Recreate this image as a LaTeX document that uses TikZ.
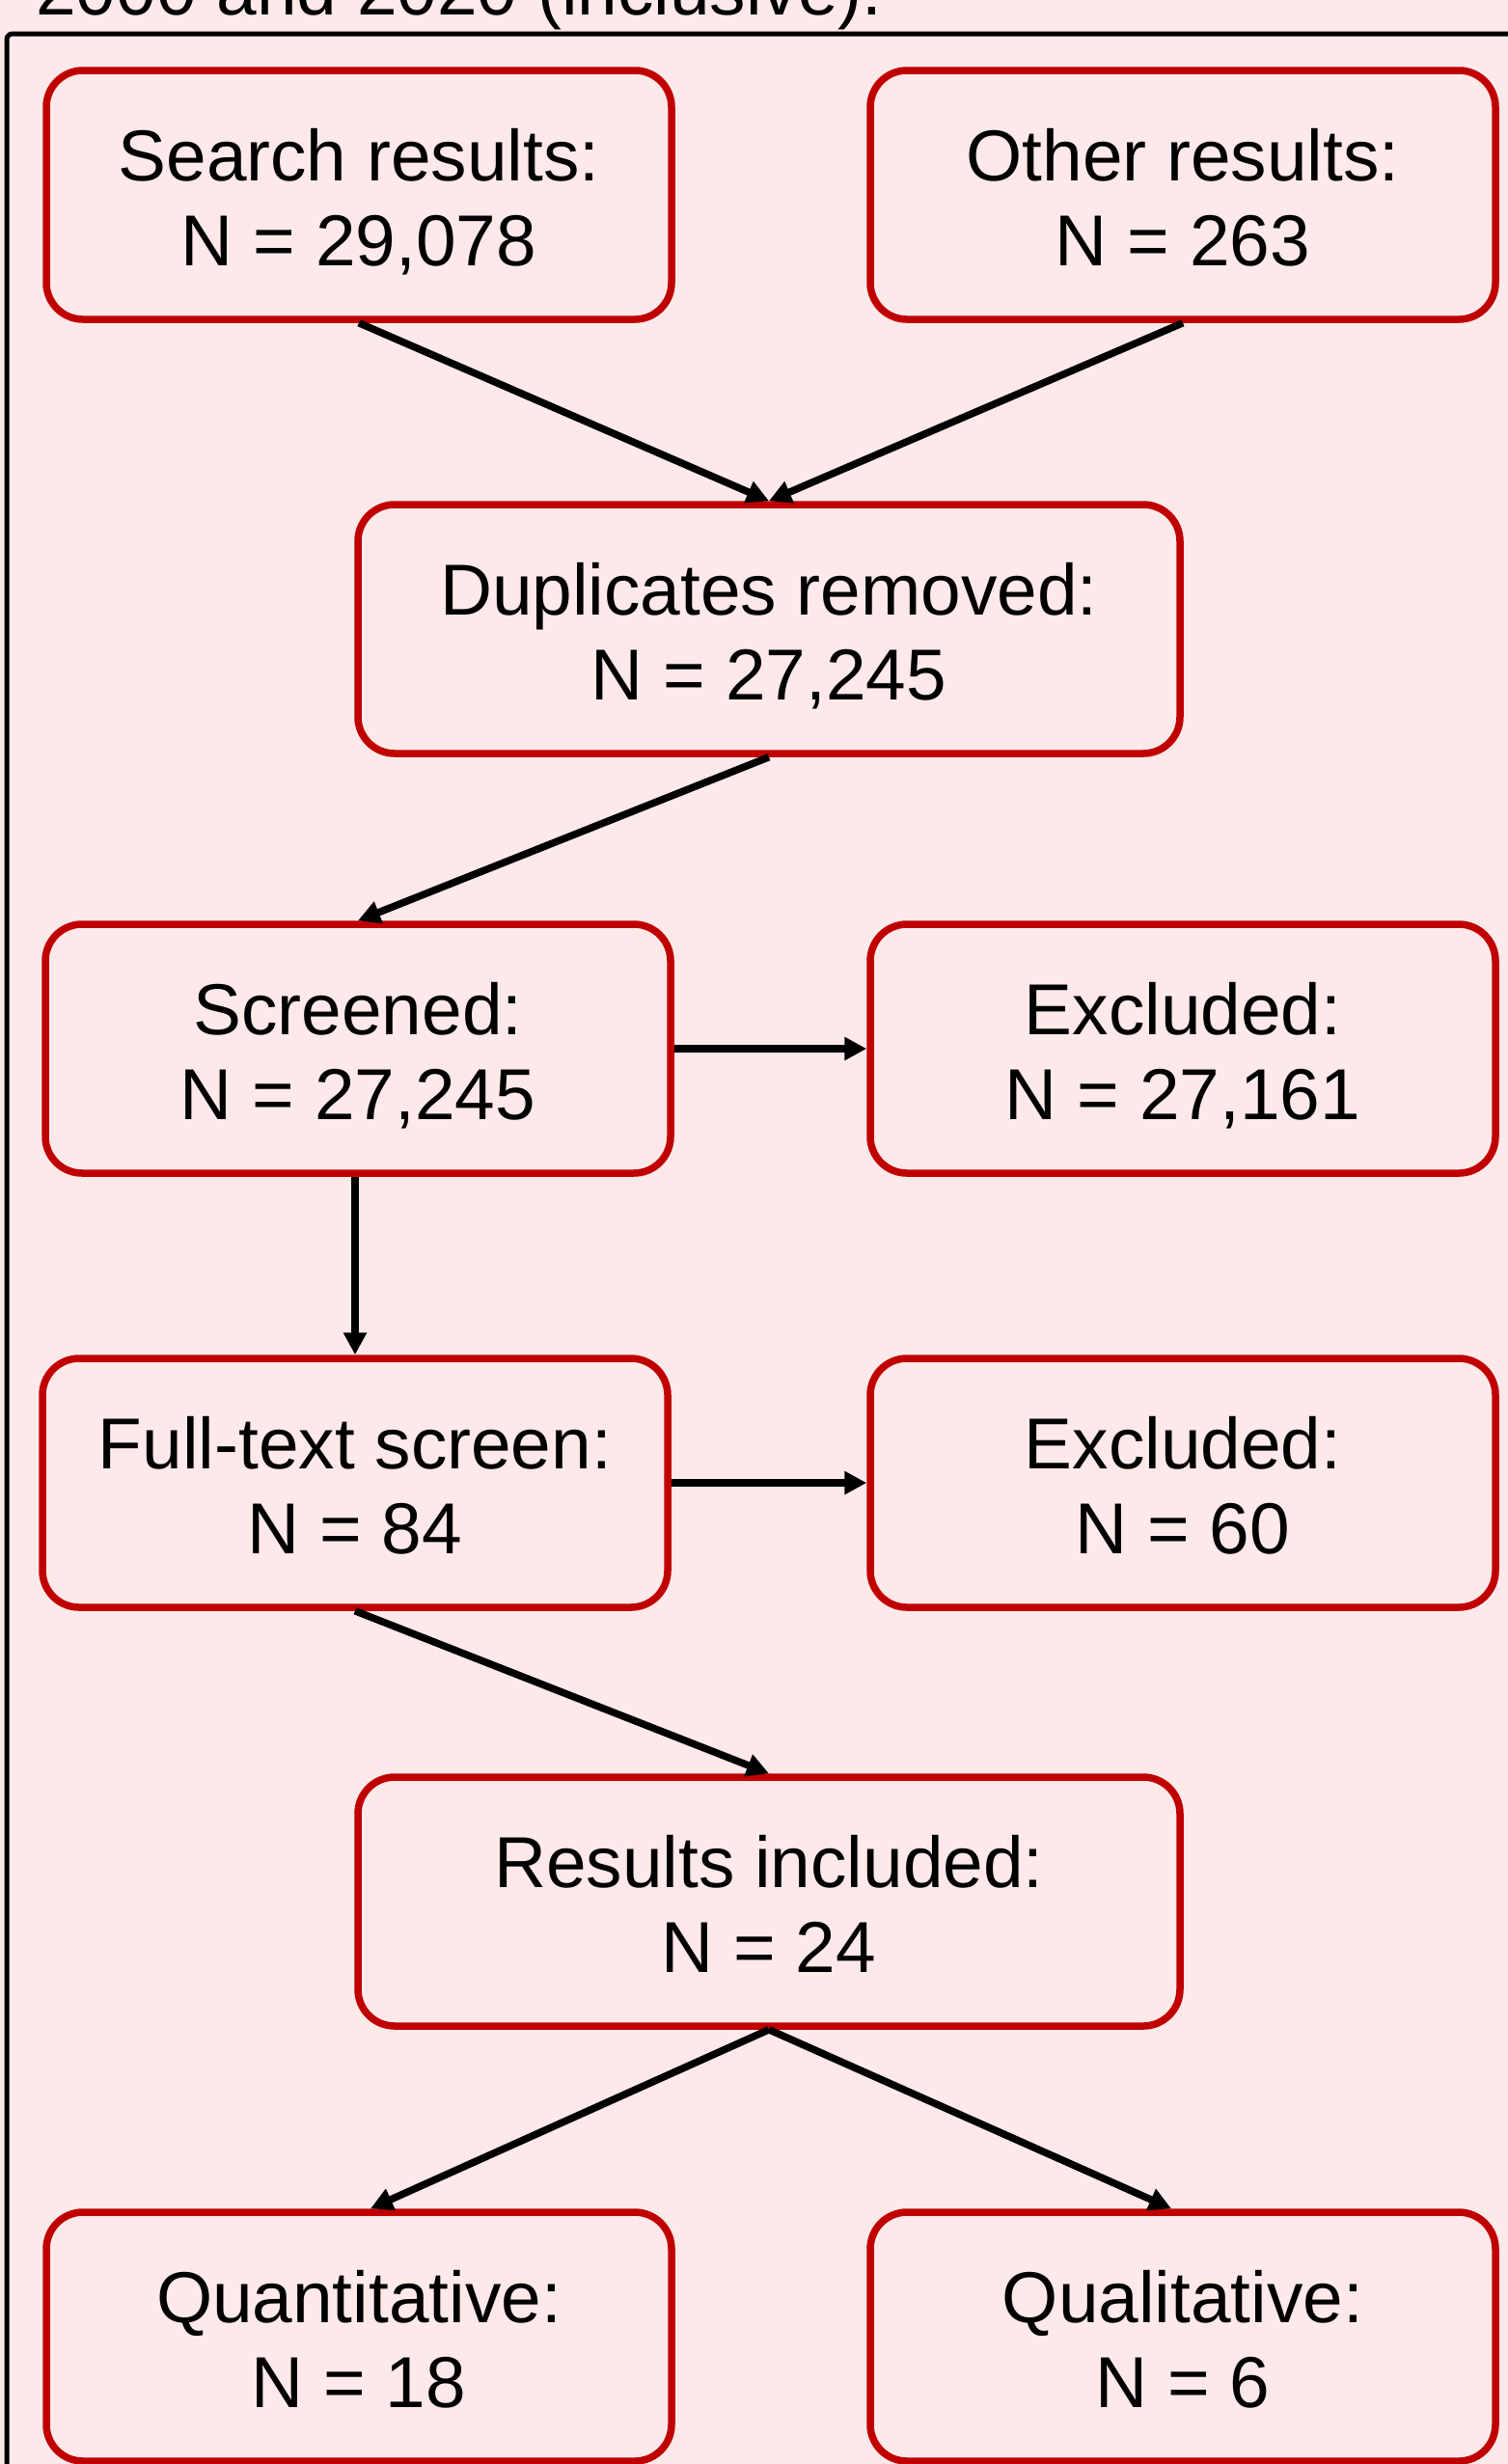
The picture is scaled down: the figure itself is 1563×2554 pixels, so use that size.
\documentclass[tikz,border=0pt]{standalone}
\usepackage{fontspec}
\setmainfont{Liberation Sans}
\usetikzlibrary{positioning, arrows.meta}

\definecolor{bgpink}{RGB}{253,233,233}
\definecolor{boxred}{RGB}{192,0,0}

\begin{document}
\begin{tikzpicture}[x=0.5pt, y=-0.5pt,
		box/.style={draw=boxred, fill=bgpink, line width=3.75pt, rounded corners=19pt, minimum width=324pt, minimum height=129pt, align=center, inner sep=0pt, font=\fontsize{37.4}{44}\selectfont, text height=73pt, text depth=0pt},
		widebox/.style={box, minimum width=426pt},
		flow/.style={-{Triangle[length=11.5pt, width=11.5pt]}, line width=3.75pt}]
		\useasboundingbox (0, 0) rectangle (1563, 2554);
		\fill[bgpink] (0, 0) rectangle (1563, 2554);
		\clip (0, 0) rectangle (1563, 2554);
		\node[anchor=base west, inner sep=0pt, font=\fontsize{37.4}{44}\selectfont] (title) at (37, 15) {2000 and 2020 (inclusive).};
		\draw[line width=2.5pt, rounded corners=3pt] (7, 2700) |- (1700, 35);

		\node[box] (search) at (372, 202) {Search results:\\N = 29,078};
		\node[box] (other) at (1226, 202) {Other results:\\N = 263};
		\node[widebox] (dupl) at (797, 652) {Duplicates removed:\\N = 27,245};
		\node[box] (screened) at (371, 1087) {Screened:\\N = 27,245};
		\node[box] (excl1) at (1226, 1087) {Excluded:\\N = 27,161};
		\node[box] (fulltext) at (368, 1537) {Full-text screen:\\N = 84};
		\node[box] (excl2) at (1226, 1537) {Excluded:\\N = 60};
		\node[widebox] (incl) at (797, 1971) {Results included:\\N = 24};
		\node[box] (quant) at (372, 2422) {Quantitative:\\N = 18};
		\node[box] (qual) at (1226, 2422) {Qualitative:\\N = 6};

		\draw[flow] (search.south) -- (dupl.north);
		\draw[flow] (other.south) -- (dupl.north);
		\draw[flow] (dupl.south) -- (screened.north);
		\draw[flow] (screened.east) -- (excl1.west);
		\draw[flow] (screened.south -| fulltext.north) -- (fulltext.north);
		\draw[flow] (fulltext.east) -- (excl2.west);
		\draw[flow] (fulltext.south) -- (incl.north);
		\draw[flow] (incl.south) -- ([xshift=6pt]quant.north);
		\draw[flow] (incl.south) -- ([xshift=-6pt]qual.north);
\end{tikzpicture}
\end{document}
